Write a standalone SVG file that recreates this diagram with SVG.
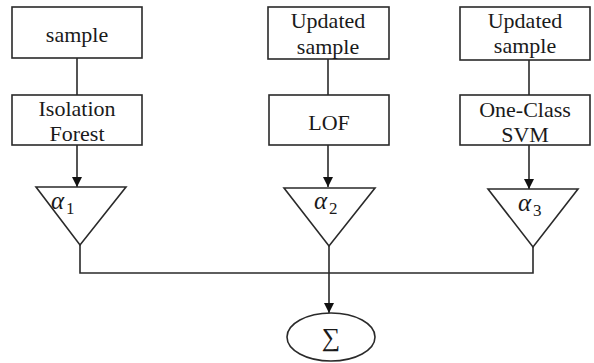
<svg xmlns="http://www.w3.org/2000/svg" width="594" height="363" viewBox="0 0 594 363">
  <style>
    .box { fill: #ffffff; stroke: #2a2a2a; stroke-width: 1.6; }
    .lbl { font-family: "Liberation Serif", "Times New Roman", serif; font-size: 22px; fill: #1a1a1a; text-anchor: middle; }
    .math { font-family: "Liberation Serif", "Times New Roman", serif; font-style: italic; font-size: 25px; fill: #1a1a1a; }
    .sub { font-family: "Liberation Serif", "Times New Roman", serif; font-size: 17px; fill: #1a1a1a; }
    .wire { fill: none; stroke: #2a2a2a; stroke-width: 1.6; }
  </style>
  <defs>
    <marker id="arrow" viewBox="0 0 10 10" refX="10" refY="5" markerWidth="10" markerHeight="10" markerUnits="userSpaceOnUse" orient="auto">
      <path d="M0,0 L10,5 L0,10 Z" fill="#111"/>
    </marker>
  </defs>

  <rect width="594" height="363" fill="#ffffff"/>

  <!-- connectors -->
  <g id="connectors">
    <line class="wire" x1="77" y1="58" x2="77" y2="95"/>
    <line class="wire" x1="328" y1="59" x2="328" y2="95"/>
    <line class="wire" x1="529" y1="60" x2="529" y2="95"/>
    <line class="wire" x1="77" y1="145" x2="77" y2="187" marker-end="url(#arrow)"/>
    <line class="wire" x1="328" y1="145" x2="328" y2="187" marker-end="url(#arrow)"/>
    <line class="wire" x1="529" y1="145" x2="529" y2="189" marker-end="url(#arrow)"/>
    <polyline class="wire" points="80,245 80,273 533,273 533,247"/>
    <line class="wire" x1="329" y1="246" x2="329" y2="313" marker-end="url(#arrow)"/>
  </g>

  <!-- column 1 -->
  <g id="sample1">
    <rect class="box" x="12" y="7" width="130" height="51"/>
    <text class="lbl" x="77" y="42">sample</text>
  </g>
  <g id="iforest">
    <rect class="box" x="12" y="95" width="130" height="50"/>
    <text class="lbl" x="77" y="116">Isolation</text>
    <text class="lbl" x="77" y="141">Forest</text>
  </g>
  <g id="weight1">
    <polygon class="box" points="36,187 126,187 80,245"/>
    <text class="math" x="51" y="209">α</text>
    <text class="sub" x="66" y="214">1</text>
  </g>

  <!-- column 2 -->
  <g id="sample2">
    <rect class="box" x="268" y="7" width="121" height="52"/>
    <text class="lbl" x="328" y="28">Updated</text>
    <text class="lbl" x="328" y="54">sample</text>
  </g>
  <g id="lof">
    <rect class="box" x="269" y="95" width="120" height="50"/>
    <text class="lbl" x="329" y="130">LOF</text>
  </g>
  <g id="weight2">
    <polygon class="box" points="284,188 375,188 329,246"/>
    <text class="math" x="314" y="209">α</text>
    <text class="sub" x="329" y="214">2</text>
  </g>

  <!-- column 3 -->
  <g id="sample3">
    <rect class="box" x="460" y="7" width="130" height="53"/>
    <text class="lbl" x="525" y="28">Updated</text>
    <text class="lbl" x="525" y="53">sample</text>
  </g>
  <g id="ocsvm">
    <rect class="box" x="460" y="95" width="130" height="50"/>
    <text class="lbl" x="525" y="117">One-Class</text>
    <text class="lbl" x="525" y="142">SVM</text>
  </g>
  <g id="weight3">
    <polygon class="box" points="488,189 578,189 533,247"/>
    <text class="math" x="518" y="211">α</text>
    <text class="sub" x="533" y="216">3</text>
  </g>

  <!-- summation -->
  <g id="sum">
    <ellipse class="box" cx="331" cy="337" rx="44" ry="24"/>
    <text class="lbl" x="331" y="346" style="font-size:26px">∑</text>
  </g>
</svg>
